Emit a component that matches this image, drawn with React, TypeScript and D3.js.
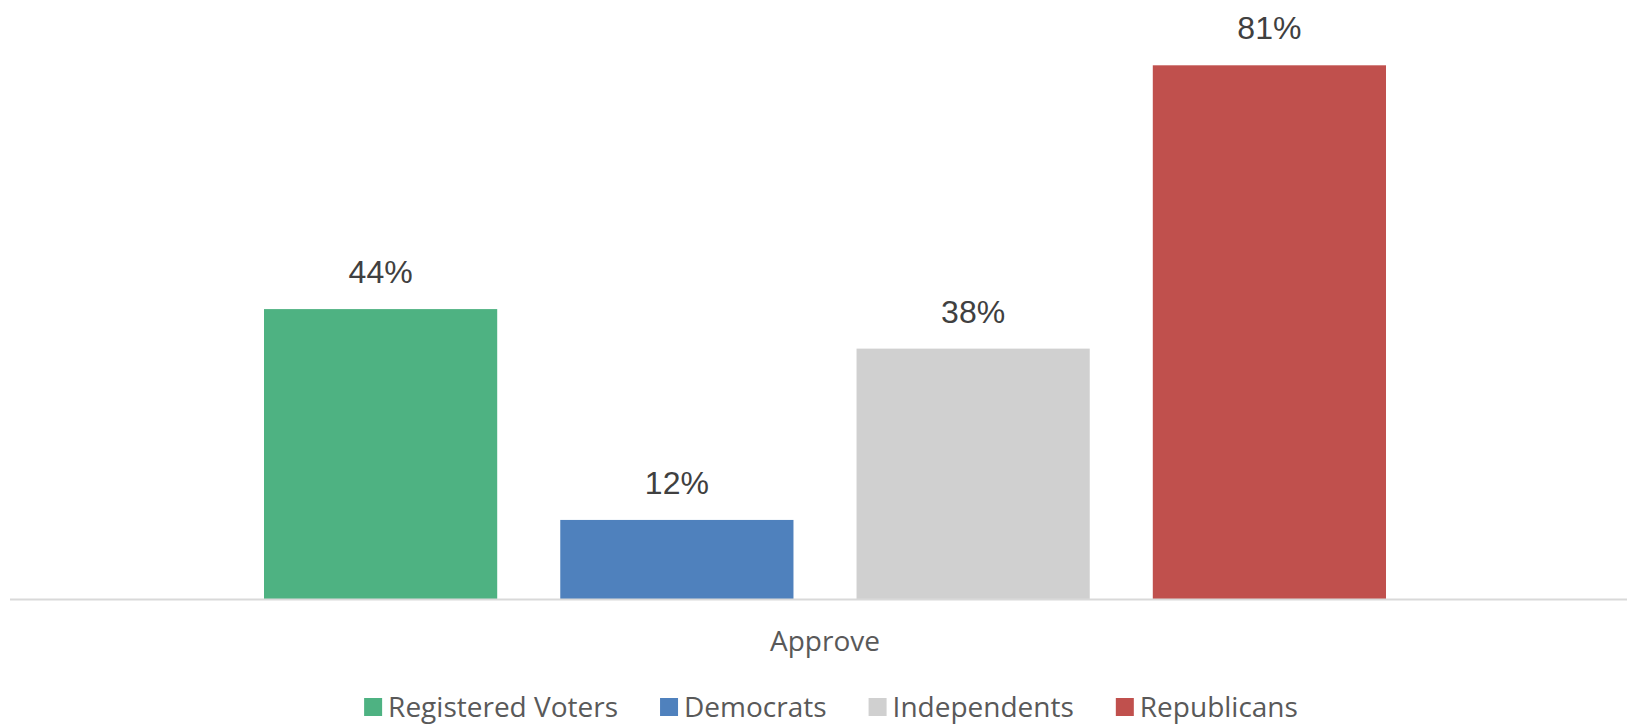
import React, { useEffect, useRef } from "react";
import * as d3 from "d3";

const categories = ["Approve"];
const seriesNames = ["Registered Voters", "Democrats", "Independents", "Republicans"];
const seriesValues = [0.44, 0.12, 0.38, 0.81];
const seriesColors = ["#4EB282", "#4F81BD", "#D0D0D0", "#C0504D"];

const W = 1627;
const H = 724;

export default function App() {
  const legendRef = useRef<SVGGElement>(null);

  const y = d3.scaleLinear().domain([0, 0.9]).range([599, 6]);
  const xSer = d3
    .scaleBand<string>()
    .domain(seriesNames)
    .range([264, 1386])
    .paddingInner(63 / 296)
    .paddingOuter(0);
  const fmt = d3.format(".0%");

  useEffect(() => {
    const g = d3.select(legendRef.current);
    if (!g.node()) return;
    g.selectAll("*").remove();
    const sq = 18;
    const textGap = 6;
    const itemGap = 42;
    const items = g
      .selectAll("g.item")
      .data(seriesNames)
      .enter()
      .append("g")
      .attr("class", "item");
    items
      .append("rect")
      .attr("width", sq)
      .attr("height", sq)
      .attr("y", -sq - 1)
      .attr("fill", (_d, i) => seriesColors[i]);
    const texts = items
      .append("text")
      .attr("x", sq + textGap)
      .attr("y", 0)
      .attr("font-family", "'Open Sans', sans-serif")
      .attr("font-size", 28)
      .attr("fill", "#595959")
      .text((d) => d);
    const widths: number[] = [];
    texts.each(function () {
      widths.push((this as SVGTextElement).getComputedTextLength());
    });
    let total = 0;
    const offs: number[] = [];
    widths.forEach((w, i) => {
      offs.push(total);
      total += sq + textGap + w + (i < widths.length - 1 ? itemGap : 0);
    });
    const start = 831 - total / 2;
    items.attr("transform", (_d, i) => `translate(${start + offs[i]},${717})`);
  }, []);

  return (
    <svg
      width={W}
      height={H}
      style={{ position: "absolute", left: 0, top: 0, background: "#fff" }}
    >
      <rect x={0} y={0} width={W} height={H} fill="#fff" />
      {seriesNames.map((s, i) => (
        <rect
          key={s}
          x={xSer(s)}
          y={y(seriesValues[i])}
          width={xSer.bandwidth()}
          height={y(0) - y(seriesValues[i])}
          fill={seriesColors[i]}
        />
      ))}
      <line x1={10} x2={W} y1={y(0) + 0.5} y2={y(0) + 0.5} stroke="#D9D9D9" strokeWidth={2} />
      {seriesNames.map((s, i) => (
        <text
          key={s + "-lbl"}
          x={(xSer(s) as number) + xSer.bandwidth() / 2}
          y={y(seriesValues[i]) - 26}
          textAnchor="middle"
          fontFamily="'Liberation Sans', Arial, sans-serif"
          fontSize={32}
          fill="#404040"
        >
          {fmt(seriesValues[i])}
        </text>
      ))}
      {categories.map((c) => (
        <text
          key={c}
          x={825}
          y={651}
          textAnchor="middle"
          fontFamily="'Open Sans', sans-serif"
          fontSize={28}
          fill="#595959"
        >
          {c}
        </text>
      ))}
      <g ref={legendRef} />
    </svg>
  );
}
